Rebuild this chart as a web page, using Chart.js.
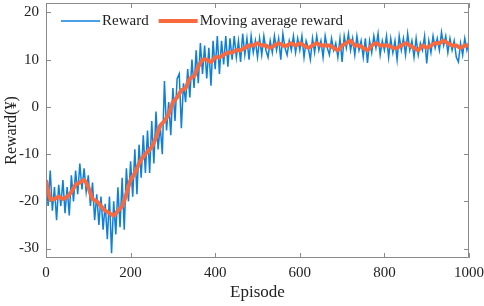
<!DOCTYPE html>
<html>
<head>
<meta charset="utf-8">
<script src="https://cdn.jsdelivr.net/npm/chart.js@4.4.1/dist/chart.umd.min.js"></script>
<style>
  html, body { margin: 0; padding: 0; background: #fff; }
  #wrap { width: 484px; height: 306px; }
</style>
</head>
<body>
<div id="wrap"><canvas id="rewardChart"></canvas></div>
<script>
// reward per episode (read every 5 episodes)
var rewardEpisodes = [];
for (var e = 0; e <= 1000; e += 5) rewardEpisodes.push(e);
var rewardValues = [
  -15.5, -21, -13.5, -22, -17, -24, -16.5, -21, -15.5, -22.5,
  -17, -23, -14.5, -20, -13.5, -18.5, -12, -17.5, -13, -18,
  -14.5, -21, -16, -24, -18.5, -25, -19, -26, -20.5, -28,
  -19, -31, -20, -27, -17, -25.5, -15, -26, -13, -20,
  -11.5, -19, -9, -18.5, -8, -15, -6, -14, -5, -14,
  -3, -12, -1, -9, -4, -10, 5.5, -5, 1, -6,
  4, -3, 6, 7, -4.5, 5, 1, 8, 2, 10,
  4, 12, 5, 13.5, 7, 13, 6, 12.5, 4.5, 14,
  8, 15, 7, 14, 9, 15, 8.5, 14.5, 10, 15,
  10.5, 14, 9.5, 15.5, 11, 14.5, 10, 15, 11.5, 14,
  10.5, 14.5, 11, 15, 12, 10.5, 14, 11.5, 15, 12,
  14.5, 10, 15.5, 12.5, 11, 14, 12, 15, 11.5, 14.5,
  12, 15, 10.5, 14, 12.5, 10, 14.5, 11.5, 15, 12,
  14, 10.5, 15, 12.5, 11, 14.5, 12, 13.5, 10.5, 14.5,
  9.5, 15, 12.5, 15.5, 12, 14.5, 11, 15, 12, 14,
  10.5, 14.5, 9.3, 14, 11.5, 15, 12.5, 15.5, 11, 14,
  12, 15, 10.5, 14.5, 11.5, 14, 10, 15, 12, 14.5,
  11, 15.5, 12, 14, 10.5, 14.5, 11, 13.5, 12, 15,
  9.2, 14, 11.5, 15, 12.5, 14.5, 12, 15.8, 13, 15,
  11.5, 14.5, 12, 14, 10.5, 9.5, 13.5, 11, 14.5, 12,
  14
];
// moving average (read every 10 episodes)
var avgEpisodes = [];
for (var k = 0; k <= 1000; k += 10) avgEpisodes.push(k);
var avgValues = [
  -15.5, -19.5, -19.5, -19, -19.5, -19, -18, -16.5, -16, -15.5,
  -17, -19.5, -20, -21, -22, -22.5, -23, -22, -21, -18.5,
  -15.5, -14, -12, -10.5, -9.5, -8.5, -6.5, -4, -3, -1.5,
  1, 2, 3.5, 4, 6, 6.5, 8.5, 10, 10, 9.5,
  10.5, 10.5, 11, 11.5, 11.5, 12, 12, 12.5, 13, 13,
  13.5, 13, 13, 12.5, 13, 13.5, 13, 13, 13.5, 13,
  13.5, 13, 12.5, 13, 13.5, 13, 13, 13, 12.5, 12,
  13, 13.5, 14, 13, 13, 12.5, 12, 13, 13.5, 13,
  13, 13, 12.5, 12.5, 13, 13.5, 13, 12.5, 12, 13,
  12.5, 13, 13.5, 13.5, 14, 13.5, 13, 13, 12.5, 13,
  13
];
var xTicks = [0, 200, 400, 600, 800, 1000];
var yTicks = [-30, -20, -10, 0, 10, 20];

function toPoints(xs, ys) {
  var pts = [];
  for (var i = 0; i < xs.length; i++) pts.push({x: xs[i], y: ys[i]});
  return pts;
}

var serif = "'Liberation Serif', 'Times New Roman', serif";

// box round the plot with inward ticks, matlab style, plus legend inside
var boxPlugin = {
  id: 'boxPlugin',
  afterDraw: function(chart) {
    var ctx = chart.ctx, a = chart.chartArea;
    var sx = chart.scales.x, sy = chart.scales.y;
    var len = 5;
    ctx.save();
    ctx.strokeStyle = '#8a8a8a';
    ctx.lineWidth = 1;
    ctx.beginPath();
    ctx.rect(a.left + 0.5, a.top + 0.5, a.right - a.left - 1, a.bottom - a.top - 1);
    xTicks.forEach(function(v) {
      var px = Math.round(sx.getPixelForValue(v)) + 0.5;
      ctx.moveTo(px, a.bottom); ctx.lineTo(px, a.bottom - len);
      ctx.moveTo(px, a.top); ctx.lineTo(px, a.top + len);
    });
    yTicks.forEach(function(v) {
      var py = Math.round(sy.getPixelForValue(v)) + 0.5;
      ctx.moveTo(a.left, py); ctx.lineTo(a.left + len, py);
      ctx.moveTo(a.right, py); ctx.lineTo(a.right - len, py);
    });
    ctx.stroke();

    // legend
    var x = a.left + 15, y = a.top + 18;
    ctx.font = '15px ' + serif;
    ctx.textBaseline = 'middle';
    ctx.textAlign = 'left';
    chart.data.datasets.forEach(function(ds) {
      ctx.strokeStyle = ds.borderColor;
      ctx.lineWidth = ds.borderWidth;
      ctx.beginPath();
      ctx.moveTo(x, y); ctx.lineTo(x + 39, y);
      ctx.stroke();
      ctx.fillStyle = '#222';
      ctx.fillText(ds.label, x + 41, y);
      x += 41 + ctx.measureText(ds.label).width + 10;
    });
    ctx.restore();
  }
};

new Chart(document.getElementById('rewardChart'), {
  type: 'line',
  data: {
    datasets: [
      {
        label: 'Reward',
        data: toPoints(rewardEpisodes, rewardValues),
        borderColor: '#0f7fd9',
        backgroundColor: '#0f7fd9',
        borderWidth: 1.5,
        pointRadius: 0,
        tension: 0,
        order: 2
      },
      {
        label: 'Moving average reward',
        data: toPoints(avgEpisodes, avgValues),
        borderColor: '#f86a3e',
        backgroundColor: '#f86a3e',
        borderWidth: 4,
        pointRadius: 0,
        tension: 0.2,
        order: 1
      }
    ]
  },
  options: {
    responsive: true,
    maintainAspectRatio: false,
    animation: false,
    layout: { padding: { left: 0, right: 15, top: 3, bottom: 0 } },
    plugins: {
      legend: { display: false },
      tooltip: { enabled: false }
    },
    scales: {
      x: {
        type: 'linear',
        min: 0,
        max: 1000,
        afterBuildTicks: function(scale) {
          scale.ticks = xTicks.map(function(v) { return {value: v}; });
        },
        afterFit: function(scale) {
          scale.height = 48;
          scale.paddingLeft = 0;
          scale.paddingRight = 0;
        },
        grid: { drawOnChartArea: false, drawTicks: false },
        border: { display: false },
        ticks: {
          color: '#222', font: { family: serif, size: 15 }, padding: 6, maxRotation: 0,
          callback: function(v) { return String(v); }
        },
        title: { display: true, text: 'Episode', color: '#222', font: { family: serif, size: 17 }, padding: { top: 0, bottom: 3 } }
      },
      y: {
        min: -32,
        max: 22,
        afterBuildTicks: function(scale) {
          scale.ticks = yTicks.map(function(v) { return {value: v}; });
        },
        afterFit: function(scale) {
          scale.width = 46;
          scale.paddingTop = 0;
          scale.paddingBottom = 0;
        },
        grid: { drawOnChartArea: false, drawTicks: false },
        border: { display: false },
        ticks: {
          color: '#222', font: { family: serif, size: 15 }, padding: 7,
          callback: function(v) { return String(v); }
        },
        title: { display: true, text: 'Reward(¥)', color: '#222', font: { family: serif, size: 16 }, padding: { top: 2, bottom: 0 } }
      }
    }
  },
  plugins: [boxPlugin]
});
</script>
</body>
</html>
